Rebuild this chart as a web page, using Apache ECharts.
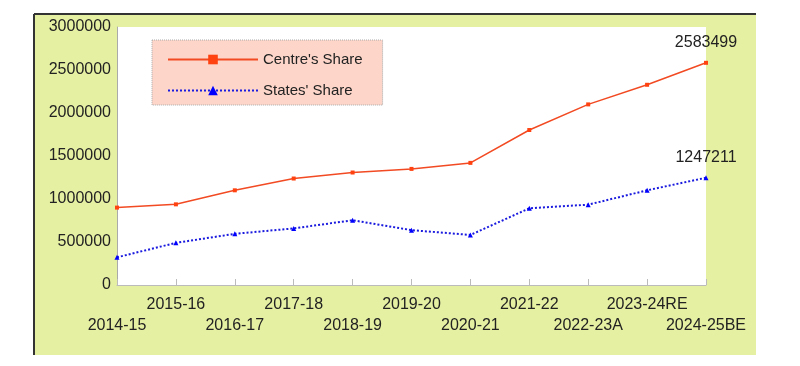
<!DOCTYPE html>
<html><head><meta charset="utf-8">
<script src="https://cdn.jsdelivr.net/npm/echarts@6/dist/echarts.min.js"></script>
<style>html,body{margin:0;padding:0;background:#fff}#c{width:800px;height:366px}</style>
</head><body><div id="c"></div>
<script>
const categories = ['2014-15','2015-16','2016-17','2017-18','2018-19','2019-20','2020-21','2021-22','2022-23A','2023-24RE','2024-25BE'];
const centreShare = [900000, 938000, 1101000, 1238000, 1308000, 1350000, 1420000, 1802000, 2100000, 2328000, 2583499];
const statesShare = [322000, 490000, 595000, 658000, 753000, 638000, 582000, 892000, 934000, 1101000, 1247211];
const yTicks = {min: 0, max: 3000000, interval: 500000};

const chart = echarts.init(document.getElementById('c'));
const lastLabel = (arr) => arr.map((v, i) => i === arr.length - 1
  ? {value: v, label: {show: true, position: 'top', distance: 10, fontSize: 16, color: '#222', fontFamily: 'Liberation Sans'}}
  : v);

chart.setOption({
  animation: false,
  textStyle: {fontFamily: 'Liberation Sans'},
  graphic: [
    {type: 'rect', z: -10, shape: {x: 34, y: 14, width: 722, height: 341}, style: {fill: '#e6f0a2'}},
    {type: 'line', z: 10, shape: {x1: 34, y1: 14, x2: 756, y2: 14}, style: {stroke: '#333', lineWidth: 2}},
    {type: 'line', z: 10, shape: {x1: 34, y1: 14, x2: 34, y2: 355}, style: {stroke: '#333', lineWidth: 2}}
  ],
  grid: {left: 117, right: 94, top: 27, bottom: 81, show: true, backgroundColor: '#fff', borderWidth: 0},
  legend: {
    orient: 'vertical', left: 152, top: 40,
    padding: [12, 20, 7, 15],
    itemWidth: 90, itemHeight: 12, itemGap: 16,
    backgroundColor: '#fdd6c9', borderColor: '#aaa', borderWidth: 1, borderType: 'dotted',
    textStyle: {fontSize: 15, color: '#222', fontFamily: 'Liberation Sans'},
    data: ["Centre's Share", "States' Share"]
  },
  xAxis: {
    type: 'category', data: categories, boundaryGap: false,
    axisLine: {lineStyle: {color: '#bbb'}},
    axisTick: {show: true, inside: true, length: 6, interval: 0, lineStyle: {color: '#bbb'}},
    axisLabel: {
      interval: 0, fontSize: 16, color: '#222', margin: 9, lineHeight: 21,
      verticalAlign: 'top',
      formatter: (v, i) => (i % 2 === 0 ? '\n' + v : v)
    },
    splitLine: {show: false}
  },
  yAxis: {
    type: 'value', min: yTicks.min, max: yTicks.max, interval: yTicks.interval,
    axisLine: {show: true, lineStyle: {color: '#aaa'}},
    axisTick: {show: false},
    axisLabel: {fontSize: 16, color: '#222', margin: 6, formatter: (v) => String(v)},
    splitLine: {show: false}
  },
  series: [
    {
      name: "Centre's Share", type: 'line', data: lastLabel(centreShare),
      symbol: 'rect', symbolSize: 4, color: '#ff4210',
      lineStyle: {color: '#f24a22', width: 1.5}, itemStyle: {color: '#ff4210'}
    },
    {
      name: "States' Share", type: 'line', data: lastLabel(statesShare),
      symbol: 'triangle', symbolSize: 5, color: '#0000ff',
      lineStyle: {color: '#1a1adf', width: 2, type: 'dotted'}, itemStyle: {color: '#0000ff'}
    }
  ]
});
</script></body></html>
